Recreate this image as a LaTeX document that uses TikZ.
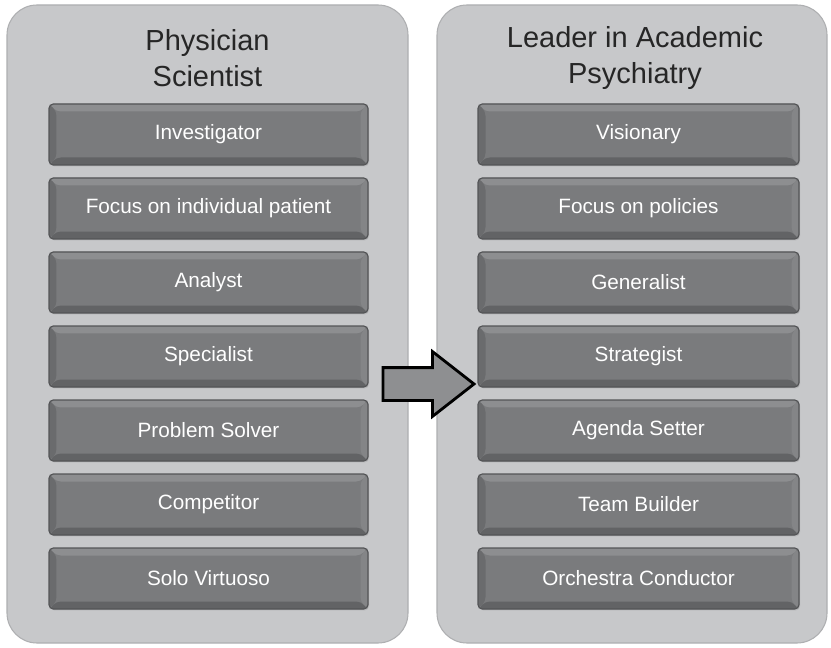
\documentclass[tikz,border=0pt]{standalone}
\usepackage{fontspec}
\setmainfont{Liberation Sans}
\usetikzlibrary{shapes.arrows,shadows}

\definecolor{panelfill}{HTML}{C7C8CA}
\definecolor{paneledge}{HTML}{AEAFB1}
\definecolor{boxface}{HTML}{7A7B7D}
\definecolor{boxedge}{HTML}{545557}
\definecolor{beveltop}{HTML}{8D8E90}
\definecolor{bevelbot}{HTML}{626365}
\definecolor{bevelleft}{HTML}{6A6B6D}
\definecolor{bevelright}{HTML}{848587}
\definecolor{arrowfill}{HTML}{8E8F91}

\def\px{0.02cm} % one unit of the grid
\def\bv{0.15cm} % bevel depth

\tikzset{
  panel/.style={fill=panelfill, draw=paneledge, line width=0.6pt,
    rounded corners=0.6cm, minimum width=401*\px, minimum height=638*\px},
  paneltitle/.style={align=center, text=black!85,
    font=\fontsize{16.5}{20.5}\selectfont},
  rolebox/.style={draw=boxedge, line width=0.7pt, fill=boxface,
    rounded corners=2.5pt, inner sep=0pt, text=white,
    minimum width=319*\px, minimum height=61*\px,
    font=\fontsize{11.8}{14}\selectfont,
    drop shadow={opacity=0.25, shadow xshift=0.6pt, shadow yshift=-0.8pt},
    path picture={
      % bevelled rim: top, bottom, left, right
      \fill[beveltop] (path picture bounding box.north west) -- (path picture bounding box.north east)
        -- ([shift={(-\bv,-\bv)}]path picture bounding box.north east)
        -- ([shift={(\bv,-\bv)}]path picture bounding box.north west) -- cycle;
      \fill[bevelbot] (path picture bounding box.south west) -- (path picture bounding box.south east)
        -- ([shift={(-\bv,\bv)}]path picture bounding box.south east)
        -- ([shift={(\bv,\bv)}]path picture bounding box.south west) -- cycle;
      \fill[bevelleft] (path picture bounding box.north west) -- (path picture bounding box.south west)
        -- ([shift={(\bv,\bv)}]path picture bounding box.south west)
        -- ([shift={(\bv,-\bv)}]path picture bounding box.north west) -- cycle;
      \fill[bevelright] (path picture bounding box.north east) -- (path picture bounding box.south east)
        -- ([shift={(-\bv,\bv)}]path picture bounding box.south east)
        -- ([shift={(-\bv,-\bv)}]path picture bounding box.north east) -- cycle;
    }},
  shiftarrow/.style={single arrow, draw=black, line width=1.6pt, fill=arrowfill,
    minimum height=91*\px, inner xsep=0pt, inner ysep=15*\px,
    single arrow head extend=16*\px, single arrow tip angle=76}
}

\begin{document}
\begin{tikzpicture}[x=\px, y=-\px]
  \useasboundingbox (0,0) rectangle (831,648);

  % the two columns
  \node[panel] (phys) at (207.5,324) {};
  \node[panel, minimum width=390*\px] (lead) at (632,324) {};

  \node[paneltitle] (physT) at (207.5,58) {Physician\\Scientist};
  \node[paneltitle] (leadT) at (635,58) {Leader in Academic\\Psychiatry};

  % role boxes
  \foreach \t [count=\i] in {Investigator, Focus on individual patient, Analyst,
      Specialist, Problem Solver, Competitor, Solo Virtuoso}
    \node[rolebox] (l\i) at (208.5,{134.5+74*(\i-1)}) {\t};
  \foreach \t [count=\i] in {Visionary, Focus on policies, Generalist,
      Strategist, Agenda Setter, Team Builder, Orchestra Conductor}
    \node[rolebox, minimum width=321*\px] (r\i) at (638.5,{134.5+74*(\i-1)}) {\t};

  % transition
  \node[shiftarrow] (shift) at (418,384) {};
\end{tikzpicture}
\end{document}
